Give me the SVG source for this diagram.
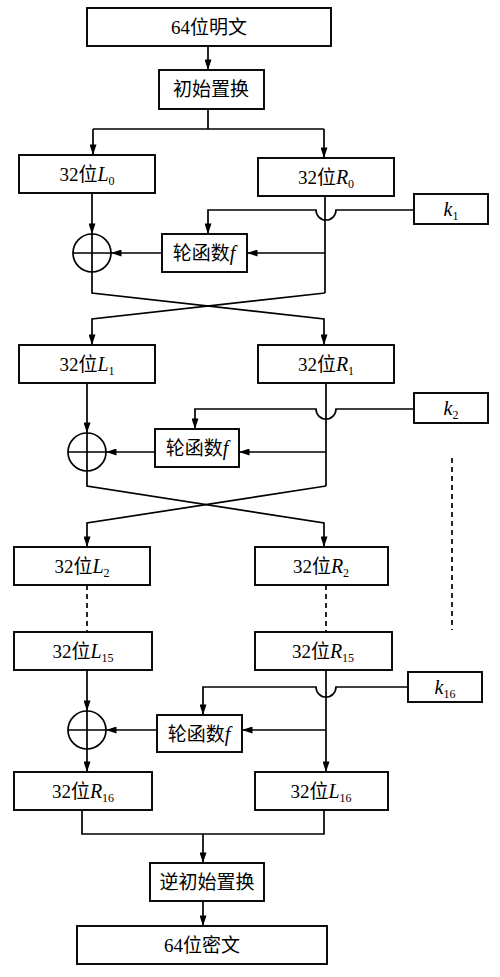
<svg xmlns="http://www.w3.org/2000/svg" width="500" height="977" viewBox="0 0 500 977">
<defs>
<marker id="ah" viewBox="0 0 12 8" markerWidth="12" markerHeight="7" refX="12" refY="4" orient="auto" markerUnits="userSpaceOnUse">
<path d="M0,0 L12,4 L0,8 z" fill="#000"/>
</marker>
<style>
rect.b{fill:#fff;stroke:#000;stroke-width:1.9}
circle.x{fill:#fff;stroke:#000;stroke-width:1.7}
text{font-family:"Liberation Serif","Noto Sans CJK SC",serif;font-size:19px;fill:#000;text-anchor:middle}
.i{font-style:italic;font-size:20px}
.s{font-size:12px}
#conn path,#conn line{fill:none;stroke:#000;stroke-width:1.7}
.a{marker-end:url(#ah)}
.d{stroke-dasharray:5,4}
</style>
</defs>
<rect width="500" height="977" fill="#fff"/>
<g id="conn">
<path class="a" d="M208,46 V70"/>
<path d="M208,109 V129 M93,129 H324"/>
<path class="a" d="M93,129 V155"/>
<path class="a" d="M324,129 V158"/>
<path class="a" d="M92,193 V234"/>
<path d="M325,196 V293"/>
<path class="a" d="M414,210 H336 A10,10 0 0 1 316,210 H208 V234"/>
<path class="a" d="M325,253 H247"/>
<path class="a" d="M162,253 H111"/>
<path class="a" d="M92,272 V293 L324,319 V345"/>
<path class="a" d="M325,293 L92,319 V345"/>
<path class="a" d="M87,383 V433"/>
<path d="M326,383 V486"/>
<path class="a" d="M414,409 H336 A10,10 0 0 1 316,409 H195 V429"/>
<path class="a" d="M326,452 H239"/>
<path class="a" d="M155,452 H106"/>
<path class="a" d="M87,471 V486 L324,523 V547"/>
<path class="a" d="M326,486 L87,523 V547"/>
<path class="d" d="M452,458 V630"/>
<path class="d" d="M87,585 V632"/>
<path class="d" d="M326,585 V632"/>
<path class="a" d="M87,670 V711"/>
<path class="a" d="M326,670 V772"/>
<path class="a" d="M408,687 H336 A10,10 0 0 1 316,687 H203 V715"/>
<path class="a" d="M326,730 H242"/>
<path class="a" d="M157,730 H106"/>
<path class="a" d="M87,749 V772"/>
<path d="M82,810 V834 H324 V810"/>
<path class="a" d="M203,834 V863"/>
<path class="a" d="M203,901 V926"/>
</g>
<g id="plain"><rect class="b" x="87" y="8" width="244" height="38"/><text x="209" y="34">64位明文</text></g>
<g id="ip"><rect class="b" x="159" y="70" width="105" height="39"/><text x="211" y="96">初始置换</text></g>
<g id="L0"><rect class="b" x="19" y="155" width="136" height="38"/><text x="87" y="181">32位<tspan class="i">L</tspan><tspan class="s" dy="4">0</tspan></text></g>
<g id="R0"><rect class="b" x="258" y="158" width="136" height="38"/><text x="326" y="184">32位<tspan class="i">R</tspan><tspan class="s" dy="4">0</tspan></text></g>
<g id="k1"><rect class="b" x="414" y="194" width="74" height="30"/><text x="451" y="216"><tspan class="i">k</tspan><tspan class="s" dy="4">1</tspan></text></g>
<g id="f1"><rect class="b" x="162" y="234" width="85" height="38"/><text x="204" y="260">轮函数<tspan class="i">f</tspan></text></g>
<g id="xor1"><circle class="x" cx="92" cy="253" r="19"/><path d="M73,253 H111 M92,234 V272" stroke="#000" stroke-width="1.7"/></g>
<g id="L1"><rect class="b" x="19" y="345" width="136" height="38"/><text x="87" y="371">32位<tspan class="i">L</tspan><tspan class="s" dy="4">1</tspan></text></g>
<g id="R1"><rect class="b" x="258" y="345" width="136" height="38"/><text x="326" y="371">32位<tspan class="i">R</tspan><tspan class="s" dy="4">1</tspan></text></g>
<g id="k2"><rect class="b" x="414" y="393" width="74" height="30"/><text x="451" y="415"><tspan class="i">k</tspan><tspan class="s" dy="4">2</tspan></text></g>
<g id="f2"><rect class="b" x="155" y="429" width="84" height="38"/><text x="197" y="455">轮函数<tspan class="i">f</tspan></text></g>
<g id="xor2"><circle class="x" cx="87" cy="452" r="19"/><path d="M68,452 H106 M87,433 V471" stroke="#000" stroke-width="1.7"/></g>
<g id="L2"><rect class="b" x="14" y="547" width="136" height="38"/><text x="82" y="573">32位<tspan class="i">L</tspan><tspan class="s" dy="4">2</tspan></text></g>
<g id="R2"><rect class="b" x="255" y="547" width="133" height="38"/><text x="321" y="573">32位<tspan class="i">R</tspan><tspan class="s" dy="4">2</tspan></text></g>
<g id="L15"><rect class="b" x="14" y="632" width="138" height="38"/><text x="83" y="658">32位<tspan class="i">L</tspan><tspan class="s" dy="4">15</tspan></text></g>
<g id="R15"><rect class="b" x="255" y="632" width="137" height="38"/><text x="323" y="658">32位<tspan class="i">R</tspan><tspan class="s" dy="4">15</tspan></text></g>
<g id="k16"><rect class="b" x="408" y="672" width="74" height="30"/><text x="445" y="694"><tspan class="i">k</tspan><tspan class="s" dy="4">16</tspan></text></g>
<g id="f16"><rect class="b" x="157" y="715" width="85" height="37"/><text x="199" y="741">轮函数<tspan class="i">f</tspan></text></g>
<g id="xor16"><circle class="x" cx="87" cy="730" r="19"/><path d="M68,730 H106 M87,711 V749" stroke="#000" stroke-width="1.7"/></g>
<g id="R16"><rect class="b" x="14" y="772" width="138" height="38"/><text x="83" y="798">32位<tspan class="i">R</tspan><tspan class="s" dy="4">16</tspan></text></g>
<g id="L16"><rect class="b" x="255" y="772" width="133" height="38"/><text x="321" y="798">32位<tspan class="i">L</tspan><tspan class="s" dy="4">16</tspan></text></g>
<g id="fp"><rect class="b" x="150" y="863" width="114" height="38"/><text x="207" y="889">逆初始置换</text></g>
<g id="cipher"><rect class="b" x="77" y="926" width="250" height="38"/><text x="202" y="952">64位密文</text></g>
</svg>
